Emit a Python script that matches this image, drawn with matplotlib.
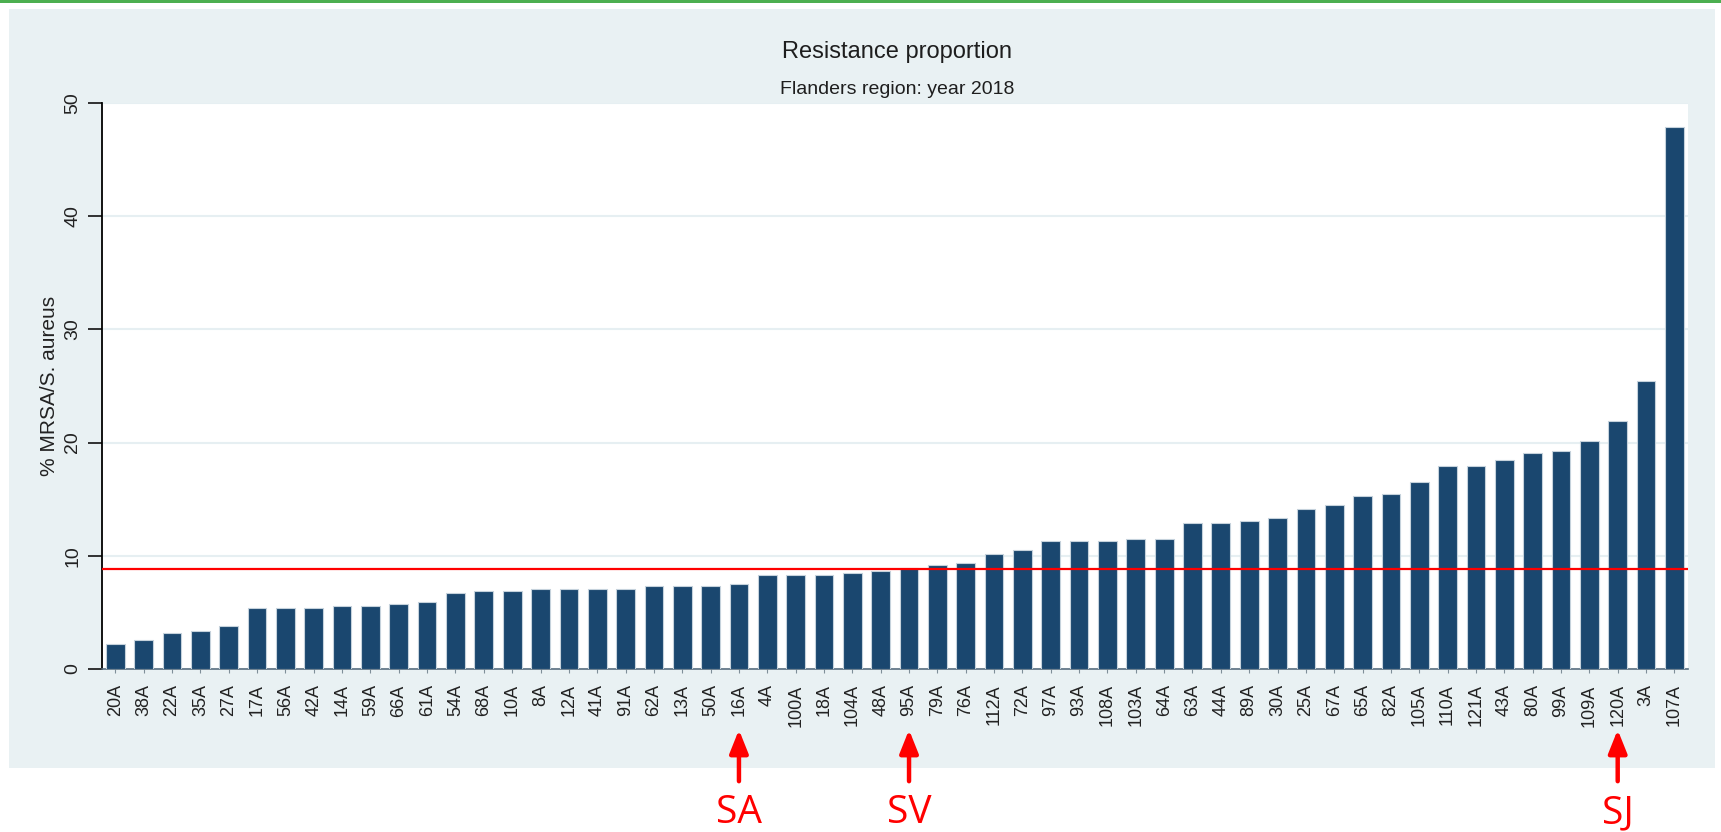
import matplotlib.pyplot as plt
from matplotlib.patches import Rectangle

plt.rcParams['font.family'] = ['Liberation Sans', 'DejaVu Sans']

# labo codes, sorted by resistance proportion
labs = ["20A", "38A", "22A", "35A", "27A", "17A", "56A", "42A", "14A", "59A",
        "66A", "61A", "54A", "68A", "10A", "8A", "12A", "41A", "91A", "62A",
        "13A", "50A", "16A", "4A", "100A", "18A", "104A", "48A", "95A", "79A",
        "76A", "112A", "72A", "97A", "93A", "108A", "103A", "64A", "63A", "44A",
        "89A", "30A", "25A", "67A", "65A", "82A", "105A", "110A", "121A", "43A",
        "80A", "99A", "109A", "120A", "3A", "107A"]
pct_mrsa = [2.2, 2.6, 3.2, 3.4, 3.8, 5.35, 5.35, 5.35, 5.55, 5.55,
            5.75, 5.95, 6.7, 6.9, 6.9, 7.1, 7.1, 7.1, 7.1, 7.3,
            7.3, 7.3, 7.5, 8.3, 8.3, 8.3, 8.5, 8.7, 8.9, 9.15,
            9.35, 10.15, 10.5, 11.3, 11.3, 11.3, 11.5, 11.5, 12.9, 12.9,
            13.1, 13.3, 14.1, 14.5, 15.3, 15.5, 16.5, 17.9, 17.9, 18.5,
            19.1, 19.3, 20.1, 21.9, 25.4, 47.9]
regional_mean = 8.8

# labs to point at under the axis
marked = {"16A": "SA", "95A": "SV", "120A": "SJ"}

W, H = 1721, 832
fig = plt.figure(figsize=(W / 100, H / 100), dpi=100)
fig.patch.set_facecolor("white")

# stata style grey panel + green line on top
fig.patches.append(Rectangle((9 / W, 1 - 768 / H), (1715 - 9) / W, (768 - 9) / H,
                             transform=fig.transFigure, facecolor="#e9f1f3",
                             edgecolor="none", zorder=-10))
fig.patches.append(Rectangle((0, 1 - 3 / H), 1, 3 / H, transform=fig.transFigure,
                             facecolor="#4caf50", edgecolor="none", zorder=-10))

ax = fig.add_axes([102 / W, 1 - 669 / H, (1688 - 102) / W, (669 - 103) / H])
ax.set_facecolor("white")

x = range(len(labs))
ax.bar(x, pct_mrsa, width=0.66, color="#1a476f", edgecolor="#c5d2dc",
       linewidth=0.8, zorder=3)
ax.axhline(regional_mean, color="red", lw=1.6, zorder=4)

ax.set_xlim(-0.47, len(labs) - 0.52)
ax.set_ylim(0, 50)
ax.set_yticks([0, 10, 20, 30, 40, 50])
ax.yaxis.grid(True, color="#e6eff2", lw=1.5, zorder=0)
ax.set_axisbelow(True)

ax.set_xticks(list(x))
ax.set_xticklabels(labs, rotation=90, fontsize=13, color="#222222")
for lbl in ax.get_yticklabels():
    lbl.set_rotation(90)
    lbl.set_va("center")
ax.tick_params(axis="y", length=10, width=1.3, pad=5, labelsize=14,
               colors="#222222")
ax.tick_params(axis="x", length=3, width=0.8, pad=8, color="#7f8f99")

for s in ["top", "right"]:
    ax.spines[s].set_visible(False)
ax.spines["left"].set_linewidth(1.3)
ax.spines["bottom"].set_color("#5a6f80")
ax.spines["bottom"].set_linewidth(1.2)

ax.set_ylabel("% MRSA/S. aureus", fontsize=15, color="#222222", labelpad=4)

fig.text(897 / W, 1 - 52 / H, "Resistance proportion", ha="center", va="center",
         fontsize=17, color="#1e1e1e")
fig.text(897 / W, 1 - 90 / H, "Flanders region: year 2018", ha="center",
         va="center", fontsize=14, color="#1e1e1e")

for lab, txt in marked.items():
    i = labs.index(lab)
    ax.annotate("", xy=(i, 1 - 727 / H), xytext=(i, 1 - 784 / H),
                xycoords=("data", "figure fraction"),
                textcoords=("data", "figure fraction"),
                arrowprops=dict(arrowstyle="-|>,head_length=1.0,head_width=0.4",
                                color="red", lw=3.2, mutation_scale=14),
                annotation_clip=False)
    ax.annotate(txt, xy=(i, 1 - 813 / H), xycoords=("data", "figure fraction"),
                ha="center", va="center", fontsize=28, color="red",
                family=["Open Sans", "DejaVu Sans"], annotation_clip=False)

fig.savefig("out.png", dpi=100)
